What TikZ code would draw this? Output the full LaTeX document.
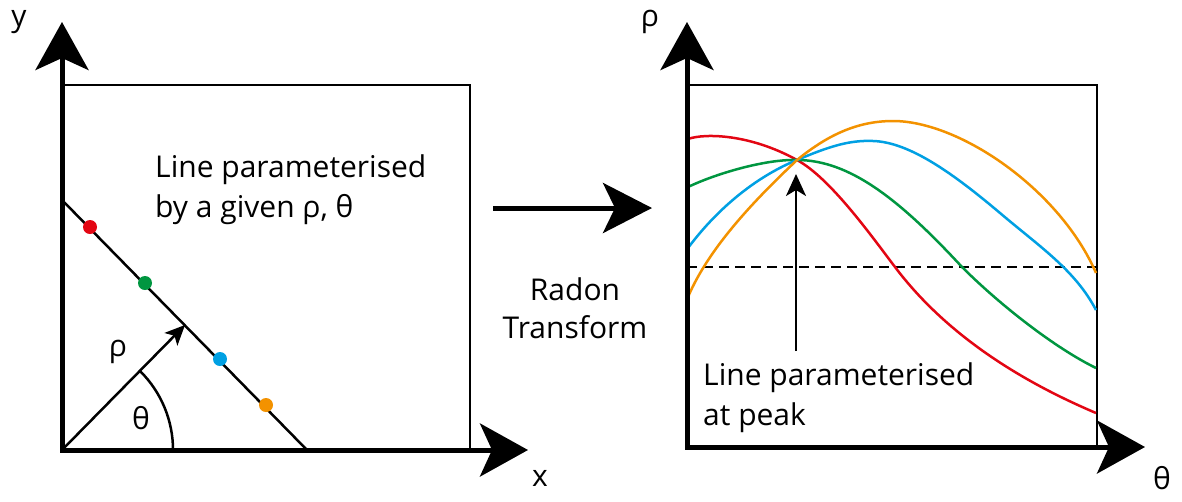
\documentclass[tikz,border=0pt]{standalone}
\usepackage{fontspec}
\setmainfont{Open Sans}
\usetikzlibrary{arrows.meta}
\definecolor{cred}{RGB}{227,6,19}
\definecolor{cgreen}{RGB}{0,150,64}
\definecolor{cblue}{RGB}{0,160,227}
\definecolor{corange}{RGB}{243,146,0}
\tikzset{
  bigtip/.tip={Stealth[length=48pt,width=53pt,inset=12pt]},
  axis/.style={line width=5pt,{bigtip}-{bigtip}},
  frame/.style={line width=2pt},
  curve/.style={line width=2.5pt},
  dot/.style={circle,inner sep=0pt,minimum size=14pt},
  lbl/.style={font=\fontsize{30}{36}\selectfont,inner sep=0pt},
  txt/.style={font=\fontsize{30}{40}\selectfont,inner sep=0pt,anchor=base west,align=left},
}
\begin{document}
\begin{tikzpicture}[x=1pt,y=-1pt]
\useasboundingbox (0,0) rectangle (1182,501);
% ---------- left panel ----------
\coordinate (O1) at (62,450);
\coordinate (Y1) at (62,22);
\coordinate (X1) at (528,450);
\draw[frame] (62,85) rectangle (470,450);
\draw[axis] (Y1) -- (O1) -- (X1);
\node[lbl] (ylab) at (19,22) {y};
\node[lbl] (xlab) at (540,478) {x};
\coordinate (La) at (62,200);
\coordinate (Lb) at (307,450);
\draw[line width=2.5pt] (La) -- (Lb);
\node[dot,fill=cred] (d1) at (90,227) {};
\node[dot,fill=cgreen] (d2) at (145,283) {};
\node[dot,fill=cblue] (d3) at (220,359) {};
\node[dot,fill=corange] (d4) at (266,405) {};
\coordinate (R1) at (185,325);
\draw[line width=2.5pt,-{Stealth[length=20pt,width=18pt,inset=5pt]}] (O1) -- (R1);
\coordinate (A1) at (140.5,371.5);
\draw[line width=2.5pt] (A1) arc[start angle=-45,end angle=0,radius=111];
\node[lbl] (rho1) at (118,352) {ρ};
\node[lbl] (th1) at (141,418) {θ};
\node[txt] (t1) at (155,217) {Line parameterised\\by a given ρ, θ};
% ---------- middle ----------
\coordinate (M1) at (493,208);
\coordinate (M2) at (652,208);
\draw[line width=5pt,-{Stealth[length=49pt,width=50pt,inset=12pt]}] (M1) -- (M2);
\node[lbl,align=center,font=\fontsize{30}{38}\selectfont] (rt) at (575,308) {Radon\\Transform};
% ---------- right panel ----------
\coordinate (O2) at (687,447);
\coordinate (Y2) at (687,22);
\coordinate (X2) at (1145,447);
\coordinate (Pk) at (797,160);
\draw[frame] (687,85) rectangle (1097,447);
\draw[line width=2pt,dashed,dash pattern=on 10pt off 6pt] (687,267) -- (1097,267);
\draw[curve,cred] (688,139) .. controls (705,133) and (750,134) .. (Pk)
  .. controls (830,178) and (870,234) .. (895,267)
  .. controls (950,340) and (1030,385) .. (1096,413);
\draw[curve,cgreen] (688,187) .. controls (715,174) and (765,159) .. (Pk)
  .. controls (850,160) and (900,200) .. (962,267)
  .. controls (1000,305) and (1055,348) .. (1096,368);
\draw[curve,cblue] (688,248) .. controls (720,205) and (760,175) .. (Pk)
  .. controls (830,146) and (850,140) .. (873,141)
  .. controls (910,142) and (955,175) .. (1000,213)
  .. controls (1040,247) and (1075,270) .. (1096,310);
\draw[curve,corange] (688,297) .. controls (710,245) and (760,195) .. (Pk)
  .. controls (830,133) and (860,121) .. (893,121)
  .. controls (960,121) and (1060,190) .. (1096,273);
\draw[axis] (Y2) -- (O2) -- (X2);
\node[lbl] (rholab) at (650,22) {ρ};
\node[lbl] (thlab) at (1162,478) {θ};
\coordinate (P1) at (796,351);
\coordinate (P2) at (796,174);
\draw[line width=2.5pt,-{Stealth[length=22pt,width=20pt,inset=6pt]}] (P1) -- (P2);
\node[txt] (t2) at (703,425) {Line parameterised\\at peak};
\end{tikzpicture}
\end{document}
